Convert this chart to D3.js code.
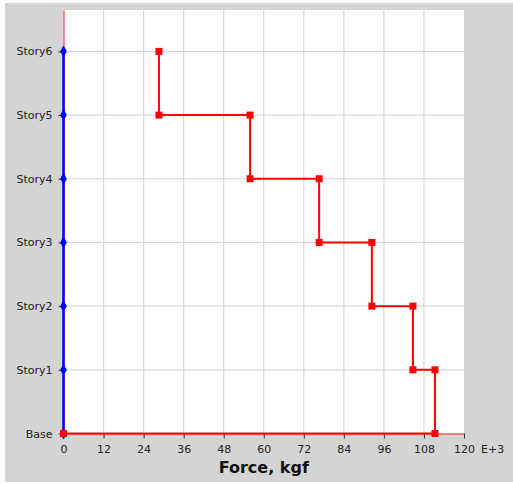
<!DOCTYPE html>
<html>
<head>
<meta charset="utf-8">
<script src="https://cdn.jsdelivr.net/npm/d3@7"></script>
<style>
  body { margin: 0; background: #fff; }
  svg { display: block; }
</style>
</head>
<body>
<script>
(function() {
  // story levels, bottom to top
  const stories = ['Base', 'Story1', 'Story2', 'Story3', 'Story4', 'Story5', 'Story6'];
  // storey shear (E+3 kgf) for Story1..Story6
  const shear = [111.3, 104.7, 92.4, 76.6, 55.9, 28.6];
  // second series: zero at every level
  const zeroSeries = [0, 0, 0, 0, 0, 0, 0];
  const xTicks = [0, 12, 24, 36, 48, 60, 72, 84, 96, 108, 120];

  const width = 513;
  const height = 484;
  const left = 63.5, right = 464, top = 10, bottom = 433.5;

  const svg = d3.select('body').append('svg').attr('width', width).attr('height', height);

  // gray panel and white plot area
  svg.append('rect').attr('x', 5).attr('y', 3).attr('width', width - 5).attr('height', 479).attr('fill', '#d4d4d4');
  svg.append('rect').attr('x', left).attr('y', top).attr('width', right - left).attr('height', bottom - top).attr('fill', '#fff');

  const xScale = d3.scaleLinear().domain([0, 120]).range([left, right]);
  const yScale = d3.scaleLinear().domain([0, 6.65]).range([bottom, top]);

  // grid
  svg.append('g').selectAll('line').data(xTicks.slice(1, -1)).enter().append('line')
    .attr('x1', d => xScale(d)).attr('x2', d => xScale(d))
    .attr('y1', top).attr('y2', bottom)
    .attr('stroke', '#d8d8d8').attr('stroke-width', 1.2);
  svg.append('g').selectAll('line').data(d3.range(1, stories.length)).enter().append('line')
    .attr('x1', left).attr('x2', right)
    .attr('y1', d => yScale(d)).attr('y2', d => yScale(d))
    .attr('stroke', '#d8d8d8').attr('stroke-width', 1.2);

  // axes
  const xAxis = svg.append('g')
    .attr('transform', 'translate(0,' + bottom + ')')
    .call(d3.axisBottom(xScale).tickValues(xTicks).tickSize(5).tickSizeOuter(0).tickPadding(6.5));
  const yAxis = svg.append('g')
    .attr('transform', 'translate(' + left + ',0)')
    .call(d3.axisLeft(yScale).tickValues(d3.range(stories.length)).tickFormat(i => stories[i]).tickSize(5).tickSizeOuter(0).tickPadding(6));
  [xAxis, yAxis].forEach(function(a) {
    a.select('.domain').attr('stroke', '#ff2020').attr('stroke-width', 1);
    a.selectAll('.tick line').attr('stroke', '#333');
    a.selectAll('text').attr('font-family', 'DejaVu Sans').attr('font-size', 11).attr('fill', '#222');
  });

  svg.append('text').attr('x', 481).attr('y', 453)
    .attr('font-family', 'DejaVu Sans').attr('font-size', 11).attr('fill', '#222').text('E+3');
  svg.append('text').attr('x', (left + right) / 2).attr('y', 473).attr('text-anchor', 'middle')
    .attr('font-family', 'DejaVu Sans').attr('font-weight', 'bold').attr('font-size', 16).attr('fill', '#111')
    .text('Force, kgf');

  // blue series
  const bluePts = zeroSeries.map((v, i) => [v, i]);
  const line = d3.line().x(d => xScale(d[0])).y(d => yScale(d[1]));
  svg.append('path').datum(bluePts).attr('d', line)
    .attr('fill', 'none').attr('stroke', '#0000ff').attr('stroke-width', 2.5);
  svg.append('g').selectAll('path').data(bluePts).enter().append('path')
    .attr('transform', d => 'translate(' + xScale(d[0]) + ',' + yScale(d[1]) + ')')
    .attr('d', d3.symbol().type(d3.symbolDiamond).size(40))
    .attr('fill', '#0000ff');

  // red step series, from top storey down to base
  const redPts = [];
  for (let i = shear.length - 1; i >= 0; i--) {
    redPts.push([shear[i], i + 1]);
    redPts.push([shear[i], i]);
  }
  redPts.push([0, 0]);
  svg.append('path').datum(redPts).attr('d', line)
    .attr('fill', 'none').attr('stroke', '#ff0000').attr('stroke-width', 2);
  svg.append('g').selectAll('rect').data(redPts).enter().append('rect')
    .attr('x', d => xScale(d[0]) - 3.5).attr('y', d => yScale(d[1]) - 3.5)
    .attr('width', 7).attr('height', 7)
    .attr('fill', '#ff0000');
})();
</script>
</body>
</html>
